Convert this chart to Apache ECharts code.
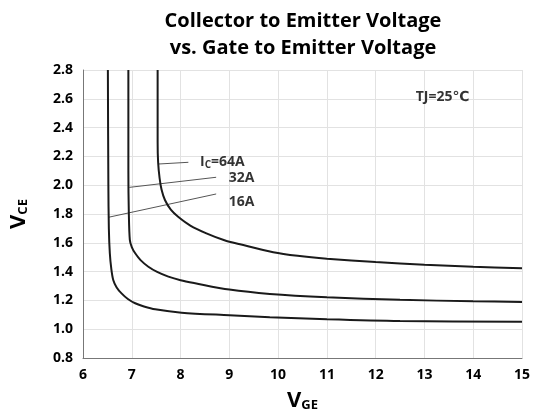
<!DOCTYPE html>
<html><head><meta charset="utf-8">
<script src="https://cdn.jsdelivr.net/npm/echarts@6/dist/echarts.min.js"></script>
<style>html,body{margin:0;padding:0;background:#fff}#c{width:534px;height:417px}</style>
</head><body><div id="c"></div>
<script>
const titleText = 'Collector to Emitter Voltage\nvs. Gate to Emitter Voltage';
const xTicks = [6,7,8,9,10,11,12,13,14,15];
const yTicks = [0.8,1.0,1.2,1.4,1.6,1.8,2.0,2.2,2.4,2.6,2.8];

const vge16 = [6.51, 6.52, 6.53, 6.55, 6.58, 6.62, 6.69, 6.79, 6.92, 7.07, 7.25, 7.48, 8.02, 9.0, 9.83, 11, 12.5, 15];
const vce16 = [2.8, 2.0, 1.7, 1.527, 1.42, 1.342, 1.29, 1.249, 1.21, 1.18, 1.158, 1.138, 1.115, 1.097, 1.083, 1.069, 1.057, 1.052];

const vge32 = [6.93, 6.93, 6.94, 6.96, 7.0, 7.07, 7.18, 7.34, 7.52, 7.75, 8.0, 8.3, 9.0, 9.83, 11, 12.5, 14, 15];
const vce32 = [2.8, 2.1, 1.8, 1.62, 1.57, 1.527, 1.48, 1.434, 1.398, 1.365, 1.34, 1.319, 1.275, 1.245, 1.222, 1.204, 1.194, 1.189];

const vge64 = [7.53, 7.53, 7.54, 7.57, 7.61, 7.68, 7.8, 7.95, 8.2, 8.53, 8.9, 9.22, 9.9, 10.4, 11, 12, 13, 14, 15];
const vce64 = [2.8, 2.3, 2.16, 2.05, 1.97, 1.897, 1.83, 1.781, 1.72, 1.666, 1.618, 1.59, 1.535, 1.51, 1.49, 1.466, 1.448, 1.434, 1.423];

// leader lines (data coords) and label anchors
const leader64 = [[7.54, 2.147], [8.16, 2.159]];
const leader32 = [[6.95, 1.985], [8.73, 2.055]];
const leader16 = [[6.52, 1.777], [8.73, 1.939]];
const labelPos = [[8.40, 2.163], [8.99, 2.05], [8.99, 1.885], [12.82, 2.6125]];
const labelText = ['{b|I}{s|C}{b|=64A}', '{b|32A}', '{b|16A}', '{b|TJ=25℃}'];

const zip = (a, b) => a.map((v, i) => [v, b[i]]);
const FONT = '"Open Sans", "DejaVu Sans", sans-serif';

const curve = (name, xs, ys) => ({
  name, type: 'line', data: zip(xs, ys), showSymbol: false, smooth: 0.3,
  lineStyle: { color: '#1a1a1a', width: 2 }, silent: true, z: 3
});
const leader = (pts) => ({
  type: 'line', data: pts, showSymbol: false,
  lineStyle: { color: '#555', width: 1 }, silent: true, z: 2
});
const nameRich = {
  v: { fontFamily: FONT, fontWeight: 'bold', fontSize: 22, color: '#000' },
  s: { fontFamily: FONT, fontWeight: 'bold', fontSize: 13, color: '#000', padding: [10, 0, 0, 0] }
};
const tickStyle = { fontFamily: FONT, fontWeight: 'bold', fontSize: 14, color: '#000', margin: 10 };

const chart = echarts.init(document.getElementById('c'));
chart.setOption({
  animation: false,
  title: {
    text: titleText, left: 298, top: 3, textAlign: 'center',
    textStyle: { fontFamily: FONT, fontWeight: 'bold', fontSize: 20, lineHeight: 27, color: '#000' }
  },
  grid: { left: 83, right: 12, top: 70, bottom: 59, containLabel: false, outerBoundsMode: 'none' },
  xAxis: {
    type: 'value', min: 6, max: 15, interval: 1,
    name: '{v|V}{s|GE}', nameLocation: 'middle', nameGap: 31,
    nameTextStyle: { rich: nameRich },
    axisLine: { lineStyle: { color: '#777', width: 1 } },
    axisTick: { show: false },
    axisLabel: Object.assign({}, tickStyle, { formatter: v => xTicks.includes(v) ? String(v) : '' }),
    splitLine: { show: true, lineStyle: { color: '#e2e2e2', width: 1 } }
  },
  yAxis: {
    type: 'value', min: 0.8, max: 2.8, interval: 0.2,
    name: '{v|V}{s|CE}', nameLocation: 'middle', nameGap: 53,
    nameTextStyle: { rich: nameRich },
    axisLine: { show: true, lineStyle: { color: '#777', width: 1 } },
    axisTick: { show: false },
    axisLabel: Object.assign({}, tickStyle, {
      formatter: v => { const t = yTicks.find(y => Math.abs(y - v) < 1e-6); return t === undefined ? '' : t.toFixed(1); } }),
    splitLine: { show: true, lineStyle: { color: '#e2e2e2', width: 1 } }
  },
  series: [
    curve('16A', vge16, vce16),
    curve('32A', vge32, vce32),
    curve('64A', vge64, vce64),
    leader(leader64), leader(leader32), leader(leader16),
    {
      type: 'scatter', symbolSize: 0, silent: true, z: 4,
      data: labelPos.map((p, i) => ({ value: p, label: { formatter: labelText[i] } })),
      label: {
        show: true, position: 'right', distance: 0,
        rich: {
          b: { fontFamily: FONT, fontWeight: 'bold', fontSize: 14, color: '#000' },
          s: { fontFamily: FONT, fontWeight: 'bold', fontSize: 10, color: '#000', padding: [6, 0, 0, 0] }
        }
      }
    }
  ]
});
</script></body></html>
